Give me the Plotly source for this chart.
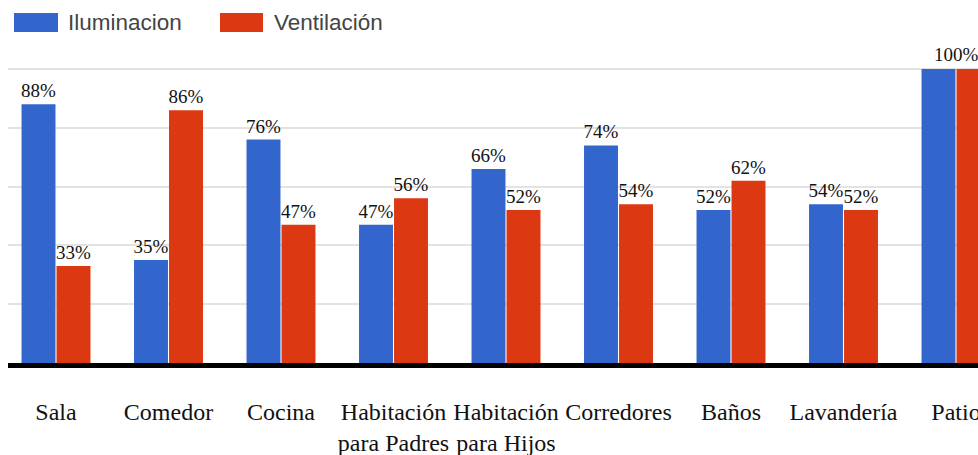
"""Iluminación y ventilación por ambiente (barras agrupadas)."""

import plotly.graph_objects as go

categorias = [
    "Sala", "Comedor", "Cocina", "Habitación<br>para Padres", "Habitación<br>para Hijos",
    "Corredores", "Baños", "Lavandería", "Patio",
]
iluminacion = [88, 35, 76, 47, 66, 74, 52, 54, 100]
ventilacion = [33, 86, 47, 56, 52, 54, 62, 52, 100]
series = ["Iluminacion", "Ventilación"]
colores = ["#3366CC", "#DC3912"]

W, H = 978, 455
M = dict(l=8, r=0, t=20, b=92)
PW = W - M["l"] - M["r"]
PH = H - M["t"] - M["b"]
PASO, CENTRO0 = 112.5, 56  # px por categoría y centro de la primera


def px(x):
    return (x - M["l"]) / PW


def py(y):
    return (H - M["b"] - y) / PH


fig = go.Figure()
for nombre, valores, color in zip(series, [iluminacion, ventilacion], colores):
    # etiqueta compartida cuando ambas barras son iguales (se pone como anotación)
    textos = ["" if a == b else f"{v}%" for v, a, b in zip(valores, iluminacion, ventilacion)]
    fig.add_trace(go.Bar(
        x=categorias, y=valores, name=nombre, marker=dict(color=color, line=dict(width=0)),
        text=textos, textposition="outside", constraintext="none", cliponaxis=False,
        textfont=dict(family="Liberation Serif", size=19, color="#111"),
        hoverinfo="skip",
    ))

for cat, a, b in zip(categorias, iluminacion, ventilacion):
    if a == b:
        fig.add_annotation(
            x=cat, y=a, xref="x", yref="y", text=f"{a}%", showarrow=False,
            yanchor="bottom", yshift=2,
            font=dict(family="Liberation Serif", size=19, color="#111"),
        )

# leyenda manual con cuadros grandes
leyenda = [(14, 58, 66), (220, 263, 272)]
for (x0, x1, xt), nombre, color in zip(leyenda, series, colores):
    fig.add_shape(type="rect", xref="paper", yref="paper",
                  x0=px(x0), x1=px(x1), y0=py(32), y1=py(13),
                  fillcolor=color, line=dict(width=0))
    fig.add_annotation(x=px(xt), y=py(22.5), xref="paper", yref="paper", text=nombre,
                       showarrow=False, xanchor="left", yanchor="middle",
                       font=dict(family="Liberation Sans", size=22.5, color="#444"))

fig.update_layout(
    width=W, height=H, margin=M, template="plotly_white",
    paper_bgcolor="white", plot_bgcolor="white", showlegend=False,
    barmode="group", bargap=1 - 70 / PASO, bargroupgap=0.03,
)
fig.update_xaxes(
    type="category", range=[(8 - CENTRO0) / PASO, (978 - CENTRO0) / PASO],
    showgrid=False, showline=True, linecolor="black", linewidth=5,
    ticks="", ticklabelstandoff=23, automargin=False,
    tickfont=dict(family="Liberation Serif", size=24, color="#111"),
)
fig.update_yaxes(
    range=[0, PH / 2.94], dtick=20, showticklabels=False, automargin=False,
    gridcolor="#e3e3e3", gridwidth=2, zeroline=False,
)

# sin margen del body para que la figura ocupe la ventana exacta
fig.write_html(
    "out.html", config={"displayModeBar": False},
    post_script="document.body.style.margin='0';document.body.style.overflow='hidden';",
)
